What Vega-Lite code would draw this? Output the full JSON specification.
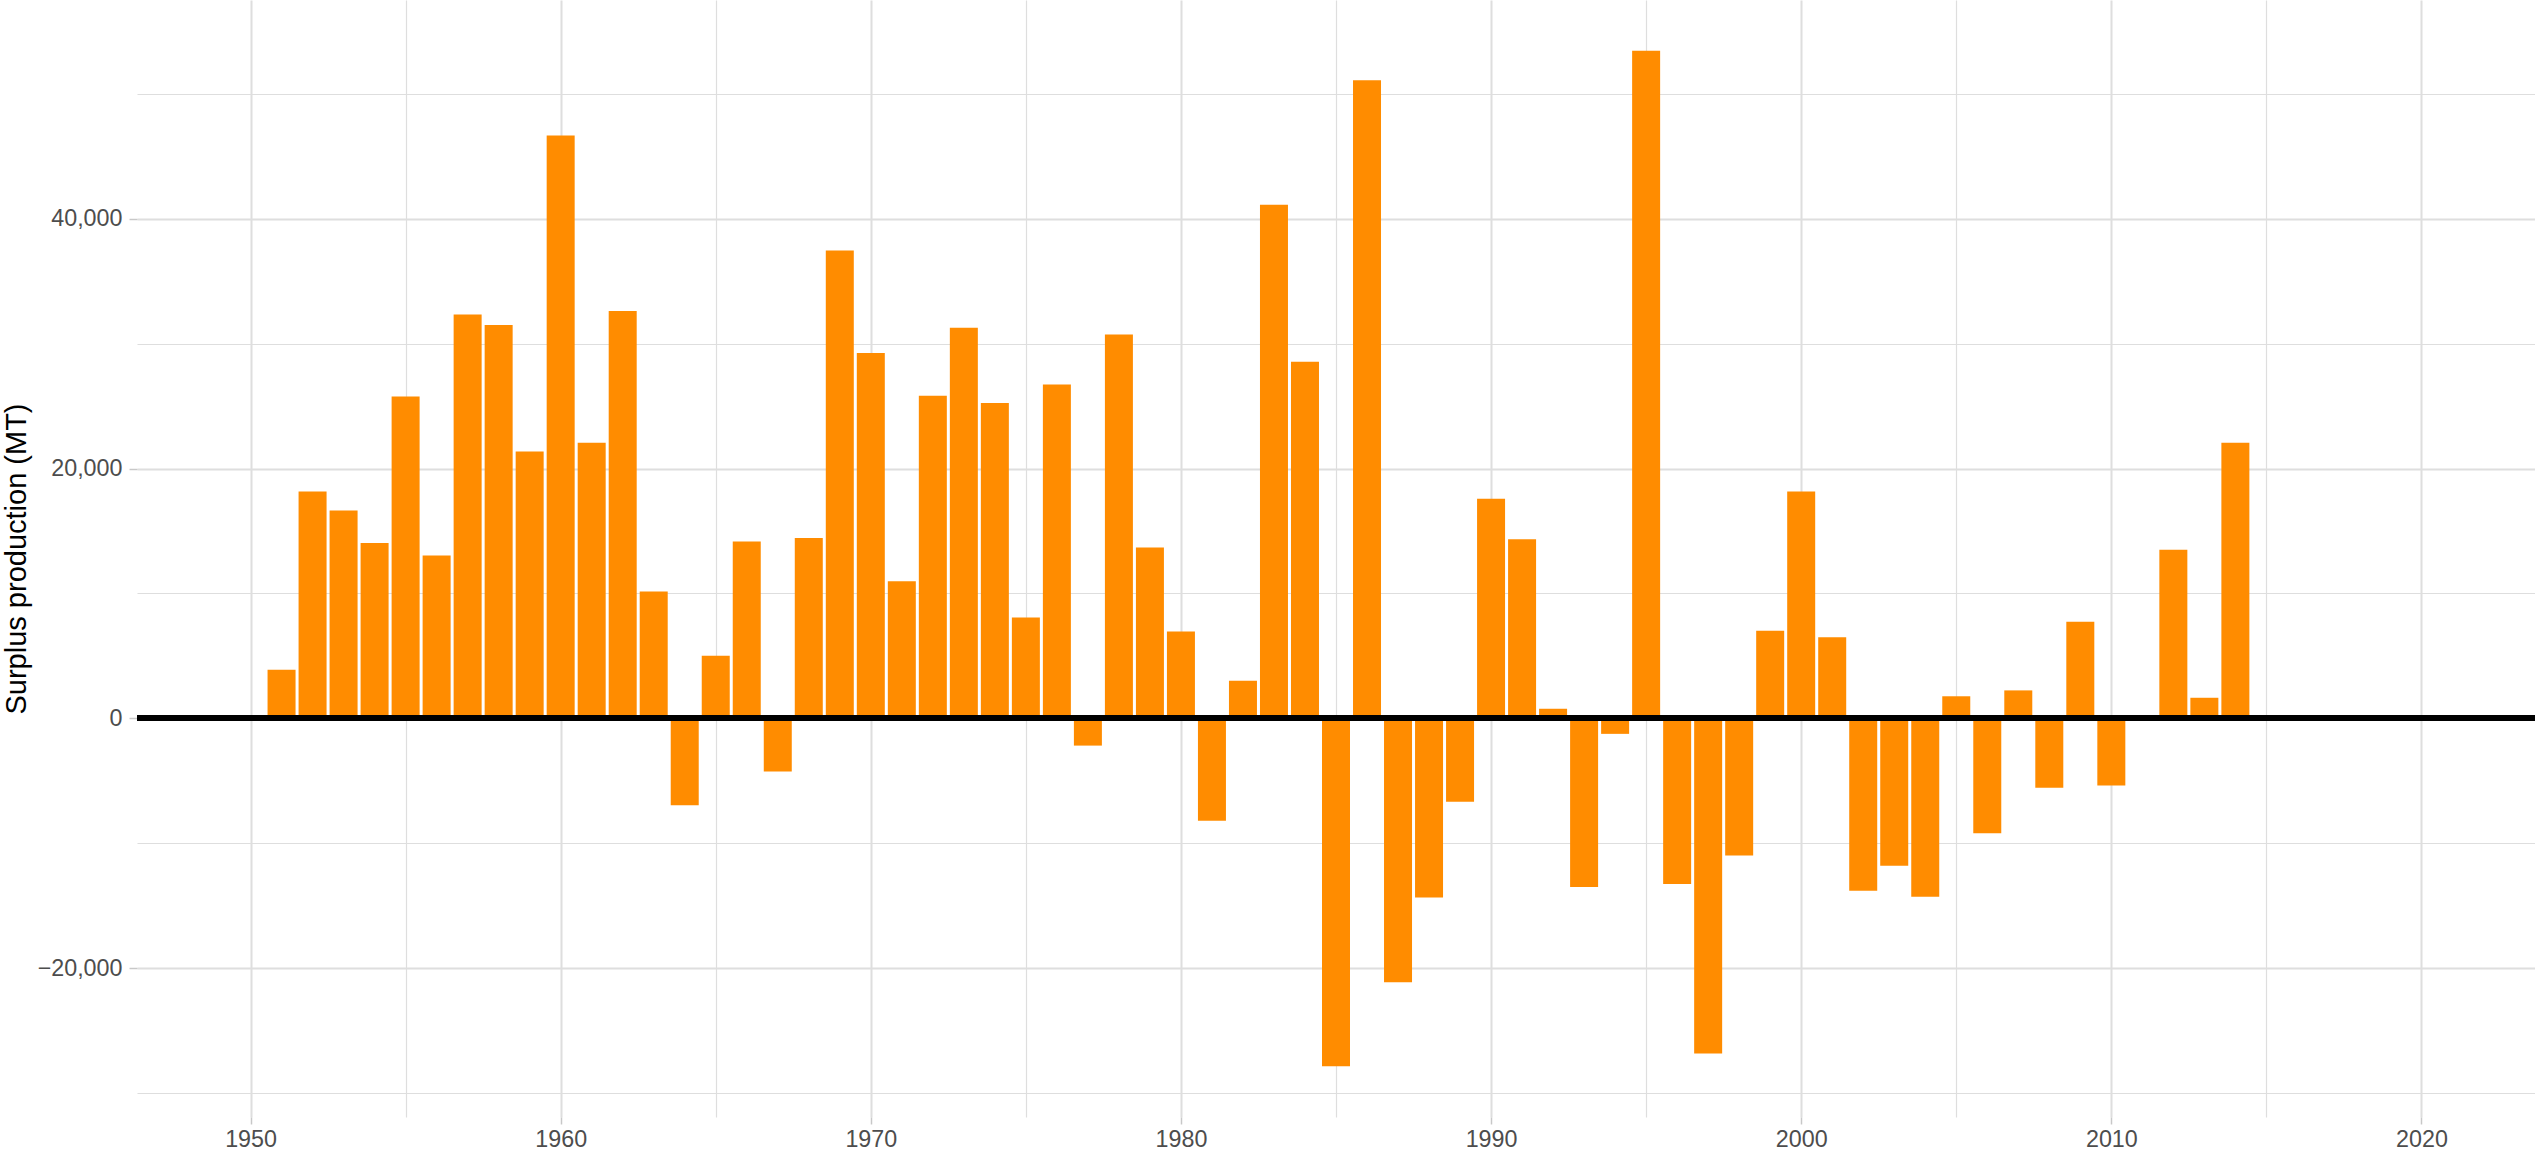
{
  "$schema": "https://vega.github.io/schema/vega-lite/v6.json",
  "width": 2398,
  "height": 1117,
  "autosize": {"type": "none"},
  "padding": {"left": 137, "top": 0, "right": 0, "bottom": 39},
  "background": "white",
  "config": {"view": {"stroke": null}, "font": "Liberation Sans"},
  "data": {"values": [
    {"year": 1951, "surplus": 3900}, {"year": 1952, "surplus": 18170}, {"year": 1953, "surplus": 16640},
    {"year": 1954, "surplus": 14040}, {"year": 1955, "surplus": 25780}, {"year": 1956, "surplus": 13040},
    {"year": 1957, "surplus": 32330}, {"year": 1958, "surplus": 31500}, {"year": 1959, "surplus": 21360},
    {"year": 1960, "surplus": 46670}, {"year": 1961, "surplus": 22060}, {"year": 1962, "surplus": 32620},
    {"year": 1963, "surplus": 10150}, {"year": 1964, "surplus": -6960}, {"year": 1965, "surplus": 5015},
    {"year": 1966, "surplus": 14160}, {"year": 1967, "surplus": -4250}, {"year": 1968, "surplus": 14450},
    {"year": 1969, "surplus": 37460}, {"year": 1970, "surplus": 29260}, {"year": 1971, "surplus": 10970},
    {"year": 1972, "surplus": 25840}, {"year": 1973, "surplus": 31270}, {"year": 1974, "surplus": 25250},
    {"year": 1975, "surplus": 8080}, {"year": 1976, "surplus": 26730}, {"year": 1977, "surplus": -2180},
    {"year": 1978, "surplus": 30740}, {"year": 1979, "surplus": 13690}, {"year": 1980, "surplus": 6960},
    {"year": 1981, "surplus": -8200}, {"year": 1982, "surplus": 3010}, {"year": 1983, "surplus": 41120},
    {"year": 1984, "surplus": 28560}, {"year": 1985, "surplus": -27850}, {"year": 1986, "surplus": 51090},
    {"year": 1987, "surplus": -21120}, {"year": 1988, "surplus": -14340}, {"year": 1989, "surplus": -6670},
    {"year": 1990, "surplus": 17580}, {"year": 1991, "surplus": 14340}, {"year": 1992, "surplus": 770},
    {"year": 1993, "surplus": -13510}, {"year": 1994, "surplus": -1240}, {"year": 1995, "surplus": 53450},
    {"year": 1996, "surplus": -13270}, {"year": 1997, "surplus": -26840}, {"year": 1998, "surplus": -10970},
    {"year": 1999, "surplus": 7020}, {"year": 2000, "surplus": 18170}, {"year": 2001, "surplus": 6490},
    {"year": 2002, "surplus": -13800}, {"year": 2003, "surplus": -11800}, {"year": 2004, "surplus": -14280},
    {"year": 2005, "surplus": 1770}, {"year": 2006, "surplus": -9200}, {"year": 2007, "surplus": 2240},
    {"year": 2008, "surplus": -5550}, {"year": 2009, "surplus": 7730}, {"year": 2010, "surplus": -5370},
    {"year": 2012, "surplus": 13510}, {"year": 2013, "surplus": 1650}, {"year": 2014, "surplus": 22060}
  ]},
  "layer": [
    {
      "mark": {"type": "bar", "width": 28, "color": "#FF8C00"},
      "encoding": {
        "x": {
          "field": "year", "type": "quantitative",
          "scale": {"domain": [1946.5, 2023.5], "nice": false, "zero": false},
          "axis": {
            "title": null,
            "values": [1950, 1955, 1960, 1965, 1970, 1975, 1980, 1985, 1990, 1995, 2000, 2005, 2010, 2015, 2020],
            "format": "d",
            "labelExpr": "datum.value % 10 === 0 ? datum.label : ''",
            "labelFontSize": 23.3,
            "labelColor": "#4D4D4D",
            "labelPadding": 4,
            "labelFlush": false,
            "labelOverlap": false,
            "domain": false,
            "grid": true,
            "gridColor": "#DEDEDE",
            "gridWidth": {"condition": {"test": "datum.value % 10 === 0", "value": 2}, "value": 1.2},
            "ticks": true,
            "tickSize": 7,
            "tickColor": "#C8C8C8",
            "tickWidth": 1.5,
            "tickOpacity": {"condition": {"test": "datum.value % 10 === 0", "value": 1}, "value": 0}
          }
        },
        "y": {
          "field": "surplus", "type": "quantitative",
          "scale": {"domain": [-31915, 57515], "nice": false},
          "axis": {
            "title": "Surplus production (MT)",
            "titleFontSize": 29,
            "titleFontWeight": "normal",
            "titleColor": "black",
            "titleAngle": 270,
            "titleAlign": "center",
            "titleBaseline": "middle",
            "titleX": -121,
            "values": [-30000, -20000, -10000, 0, 10000, 20000, 30000, 40000, 50000],
            "format": ",d",
            "labelExpr": "datum.value % 20000 === 0 ? datum.label : ''",
            "labelFontSize": 23.3,
            "labelColor": "#4D4D4D",
            "labelPadding": 7,
            "labelFlush": false,
            "labelOverlap": false,
            "domain": false,
            "grid": true,
            "gridColor": "#DEDEDE",
            "gridWidth": {"condition": {"test": "datum.value % 20000 === 0", "value": 2}, "value": 1.2},
            "ticks": true,
            "tickSize": 8,
            "tickColor": "#C8C8C8",
            "tickWidth": 1.5,
            "tickOpacity": {"condition": {"test": "datum.value % 20000 === 0", "value": 1}, "value": 0}
          }
        },
        "y2": {"datum": 0}
      }
    },
    {
      "mark": {"type": "rule", "color": "black", "strokeWidth": 5},
      "encoding": {"y": {"datum": 0, "type": "quantitative"}}
    }
  ]
}
